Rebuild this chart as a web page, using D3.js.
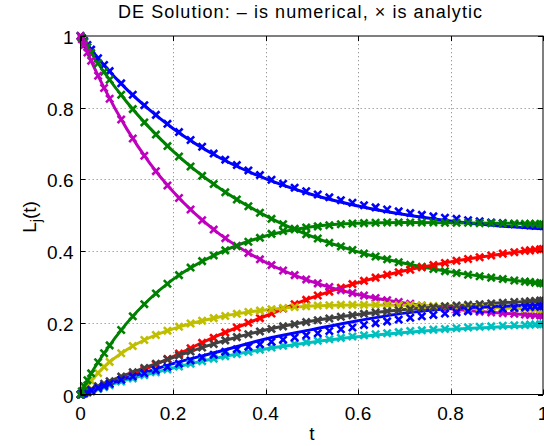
<!DOCTYPE html>
<html lang="en">
<head>
<meta charset="utf-8">
<title>DE Solution</title>
<script src="https://d3js.org/d3.v7.min.js"></script>
<style>
  body { margin: 0; background: #fff; }
  svg { font-family: "Liberation Sans", Arial, sans-serif; }
</style>
</head>
<body>
<div id="chart"></div>
<script>
// size of the page
var w = 544;
var h = 446;

// solver time steps (where the analytic x markers sit)
var tSteps = [0, 0.003, 0.008, 0.015, 0.023, 0.038, 0.051, 0.063,
  0.088, 0.113, 0.138, 0.163, 0.188, 0.213, 0.238, 0.263, 0.288, 0.313,
  0.338, 0.363, 0.388, 0.413, 0.438, 0.463, 0.488, 0.513, 0.538, 0.563,
  0.588, 0.613, 0.638, 0.663, 0.688, 0.713, 0.738, 0.763, 0.788, 0.813,
  0.838, 0.863, 0.888, 0.913, 0.938, 0.961, 0.972, 0.983, 0.994, 1.0];

// time grid for the numerical curves
var tGrid = [0, 0.025, 0.05, 0.1, 0.15, 0.2, 0.3, 0.4, 0.5, 0.6, 0.7, 0.8, 0.9, 1.0];

// analytic values (x markers)
var anaBlueTop = [1.000, 0.995, 0.986, 0.975, 0.962, 0.938, 0.919, 0.902,
  0.868, 0.836, 0.807, 0.780, 0.755, 0.732, 0.710, 0.691, 0.672, 0.655,
  0.640, 0.625, 0.612, 0.599, 0.588, 0.577, 0.567, 0.558, 0.550, 0.542,
  0.535, 0.528, 0.522, 0.516, 0.511, 0.506, 0.501, 0.497, 0.493, 0.490,
  0.486, 0.483, 0.480, 0.478, 0.475, 0.473, 0.472, 0.471, 0.471, 0.470];
var anaGreenTop = [1.000, 0.994, 0.983, 0.969, 0.953, 0.924, 0.900, 0.878,
  0.836, 0.796, 0.759, 0.725, 0.693, 0.664, 0.636, 0.610, 0.587, 0.564,
  0.544, 0.525, 0.507, 0.490, 0.475, 0.461, 0.447, 0.435, 0.423, 0.413,
  0.403, 0.393, 0.385, 0.377, 0.369, 0.362, 0.356, 0.350, 0.344, 0.339,
  0.334, 0.330, 0.326, 0.322, 0.318, 0.315, 0.314, 0.312, 0.311, 0.310];
var anaMagenta = [1.000, 0.991, 0.975, 0.954, 0.931, 0.889, 0.855, 0.825,
  0.767, 0.714, 0.666, 0.623, 0.583, 0.548, 0.516, 0.486, 0.460, 0.436,
  0.414, 0.395, 0.377, 0.361, 0.346, 0.333, 0.321, 0.310, 0.300, 0.291,
  0.283, 0.276, 0.269, 0.263, 0.258, 0.253, 0.248, 0.244, 0.240, 0.237,
  0.234, 0.231, 0.229, 0.227, 0.225, 0.223, 0.222, 0.221, 0.221, 0.220];
var anaGreenRise = [0.000, 0.009, 0.023, 0.040, 0.059, 0.090, 0.115, 0.137,
  0.180, 0.218, 0.252, 0.282, 0.309, 0.333, 0.354, 0.372, 0.388, 0.402,
  0.414, 0.426, 0.437, 0.448, 0.456, 0.462, 0.466, 0.469, 0.472, 0.475,
  0.477, 0.478, 0.479, 0.480, 0.480, 0.480, 0.480, 0.480, 0.479, 0.479,
  0.479, 0.478, 0.478, 0.477, 0.477, 0.476, 0.476, 0.476, 0.475, 0.475];
var anaYellow = [0.000, 0.005, 0.014, 0.026, 0.038, 0.060, 0.077, 0.091,
  0.115, 0.135, 0.152, 0.166, 0.178, 0.189, 0.198, 0.206, 0.213, 0.219,
  0.225, 0.230, 0.234, 0.238, 0.241, 0.244, 0.246, 0.248, 0.249, 0.250,
  0.250, 0.250, 0.250, 0.250, 0.249, 0.249, 0.248, 0.247, 0.246, 0.245,
  0.244, 0.243, 0.242, 0.241, 0.240, 0.239, 0.239, 0.238, 0.238, 0.238];
var anaRed = [0.000, 0.001, 0.003, 0.006, 0.009, 0.016, 0.022, 0.028,
  0.041, 0.055, 0.069, 0.084, 0.099, 0.114, 0.129, 0.144, 0.158, 0.173,
  0.187, 0.200, 0.213, 0.226, 0.240, 0.252, 0.264, 0.276, 0.287, 0.298,
  0.308, 0.317, 0.326, 0.334, 0.341, 0.348, 0.355, 0.361, 0.367, 0.373,
  0.378, 0.383, 0.388, 0.393, 0.397, 0.401, 0.402, 0.404, 0.405, 0.406];
var anaGrey = [0.000, 0.002, 0.005, 0.009, 0.014, 0.023, 0.030, 0.037,
  0.050, 0.062, 0.074, 0.086, 0.098, 0.109, 0.120, 0.131, 0.141, 0.151,
  0.160, 0.168, 0.176, 0.183, 0.190, 0.196, 0.202, 0.207, 0.212, 0.217,
  0.221, 0.225, 0.229, 0.232, 0.235, 0.238, 0.241, 0.243, 0.246, 0.248,
  0.250, 0.252, 0.254, 0.256, 0.258, 0.259, 0.260, 0.261, 0.262, 0.262];
var anaBlueLow = [0.000, 0.001, 0.004, 0.007, 0.011, 0.018, 0.024, 0.030,
  0.041, 0.050, 0.059, 0.068, 0.077, 0.086, 0.095, 0.103, 0.111, 0.119,
  0.126, 0.133, 0.140, 0.147, 0.153, 0.159, 0.165, 0.171, 0.177, 0.182,
  0.187, 0.194, 0.199, 0.204, 0.209, 0.214, 0.218, 0.222, 0.226, 0.229,
  0.232, 0.235, 0.237, 0.239, 0.241, 0.243, 0.244, 0.245, 0.245, 0.246];
var anaCyan = [0.000, 0.001, 0.003, 0.006, 0.009, 0.016, 0.021, 0.026,
  0.036, 0.045, 0.054, 0.062, 0.070, 0.078, 0.086, 0.093, 0.100, 0.107,
  0.113, 0.119, 0.125, 0.131, 0.136, 0.141, 0.146, 0.150, 0.154, 0.158,
  0.162, 0.165, 0.168, 0.171, 0.174, 0.177, 0.179, 0.181, 0.183, 0.185,
  0.187, 0.189, 0.190, 0.192, 0.193, 0.194, 0.195, 0.195, 0.196, 0.196];

// numerical values (solid lines)
var numBlueTop   = [1.000, 0.959, 0.920, 0.851, 0.793, 0.742, 0.661, 0.602, 0.558, 0.526, 0.502, 0.484, 0.471, 0.462];
var numGreenTop  = [1.000, 0.949, 0.901, 0.816, 0.743, 0.679, 0.576, 0.499, 0.441, 0.398, 0.366, 0.342, 0.324, 0.310];
var numMagenta   = [1.000, 0.925, 0.858, 0.741, 0.645, 0.566, 0.448, 0.369, 0.315, 0.279, 0.255, 0.239, 0.228, 0.220];
var numGreenRise = [0.000, 0.063, 0.113, 0.199, 0.267, 0.321, 0.395, 0.442, 0.468, 0.478, 0.480, 0.479, 0.478, 0.476];
var numYellow    = [0.000, 0.041, 0.076, 0.125, 0.159, 0.183, 0.216, 0.236, 0.247, 0.250, 0.249, 0.246, 0.242, 0.238];
var numRed       = [0.000, 0.010, 0.022, 0.048, 0.076, 0.106, 0.166, 0.219, 0.270, 0.312, 0.345, 0.370, 0.390, 0.406];
var numGrey      = [0.000, 0.015, 0.030, 0.056, 0.080, 0.103, 0.146, 0.180, 0.205, 0.223, 0.237, 0.247, 0.255, 0.262];
var numBlueLow   = [0.000, 0.012, 0.024, 0.046, 0.066, 0.086, 0.120, 0.155, 0.181, 0.206, 0.227, 0.240, 0.246, 0.250];
var numCyan      = [0.000, 0.010, 0.021, 0.041, 0.058, 0.074, 0.103, 0.127, 0.146, 0.161, 0.173, 0.182, 0.188, 0.193];

// matlab default colour order, cycled
var colors = ["#0000ff", "#008000", "#ff0000", "#00bfbf", "#bf00bf", "#bfbf00", "#404040", "#0000ff", "#008000"];

var numSeries = [numBlueTop, numGreenTop, numRed, numCyan, numMagenta, numYellow, numGrey, numBlueLow, numGreenRise];
var anaSeries = [anaBlueTop, anaGreenTop, anaRed, anaCyan, anaMagenta, anaYellow, anaGrey, anaBlueLow, anaGreenRise];

var xTicks = [0, 0.2, 0.4, 0.6, 0.8, 1];
var yTicks = [0, 0.2, 0.4, 0.6, 0.8, 1];

// axes box in pixels
var boxL = 80.5, boxR = 543, boxT = 36, boxB = 394.5;

var x = d3.scaleLinear().domain([0, 1]).range([boxL, boxR]);
var y = d3.scaleLinear().domain([0, 1]).range([boxB, boxT]);

var svg = d3.select("#chart").append("svg")
  .attr("width", w)
  .attr("height", h);

// grid
var grid = svg.append("g")
  .attr("stroke", "#999")
  .attr("stroke-width", 1)
  .attr("stroke-dasharray", "1.3,2.7");
grid.selectAll(".gx")
  .data(xTicks.filter(function (d) { return d > 0 && d < 1; }))
  .enter().append("line")
  .attr("x1", function (d) { return Math.round(x(d)) + 0.5; })
  .attr("x2", function (d) { return Math.round(x(d)) + 0.5; })
  .attr("y1", boxT).attr("y2", boxB);
grid.selectAll(".gy")
  .data(yTicks.filter(function (d) { return d > 0 && d < 1; }))
  .enter().append("line")
  .attr("y1", function (d) { return Math.round(y(d)) + 0.5; })
  .attr("y2", function (d) { return Math.round(y(d)) + 0.5; })
  .attr("x1", boxL).attr("x2", boxR);

// clip to the axes box (markers may poke out a bit)
svg.append("clipPath").attr("id", "clip")
  .append("rect")
  .attr("x", boxL - 6).attr("y", boxT - 6)
  .attr("width", boxR - boxL + 6).attr("height", boxB - boxT + 12);

var plot = svg.append("g").attr("clip-path", "url(#clip)");

var line = d3.line()
  .x(function (d, i) { return x(tGrid[i]); })
  .y(function (d) { return y(d); })
  .curve(d3.curveMonotoneX);

// numerical solutions
plot.selectAll(".num")
  .data(numSeries)
  .enter().append("path")
  .attr("class", "num")
  .attr("fill", "none")
  .attr("stroke", function (d, i) { return colors[i]; })
  .attr("stroke-width", 3)
  .attr("stroke-linejoin", "round")
  .attr("d", line);

// analytic solutions as x markers
var m = 3.6;
plot.selectAll(".ana")
  .data(anaSeries)
  .enter().append("g")
  .attr("class", "ana")
  .attr("stroke", function (d, i) { return colors[i]; })
  .attr("stroke-width", 2.6)
  .selectAll("path")
  .data(function (d) { return d; })
  .enter().append("path")
  .attr("transform", function (d, i) { return "translate(" + x(tSteps[i]) + "," + y(d) + ")"; })
  .attr("d", "M" + (-m) + "," + (-m) + "L" + m + "," + m + "M" + (-m) + "," + m + "L" + m + "," + (-m));

// box and ticks
var axes = svg.append("g").attr("stroke", "#000").attr("stroke-width", 1);
axes.append("rect")
  .attr("x", boxL).attr("y", boxT)
  .attr("width", boxR - boxL).attr("height", boxB - boxT)
  .attr("fill", "none");

var tl = 5;
xTicks.forEach(function (d) {
  var px = Math.round(x(d)) + 0.5;
  axes.append("line").attr("x1", px).attr("x2", px).attr("y1", boxB).attr("y2", boxB - tl);
  axes.append("line").attr("x1", px).attr("x2", px).attr("y1", boxT).attr("y2", boxT + tl);
});
yTicks.forEach(function (d) {
  var py = Math.round(y(d)) + 0.5;
  axes.append("line").attr("y1", py).attr("y2", py).attr("x1", boxL).attr("x2", boxL + tl);
  axes.append("line").attr("y1", py).attr("y2", py).attr("x1", boxR).attr("x2", boxR - tl);
});

// tick labels
svg.selectAll(".xl")
  .data(xTicks)
  .enter().append("text")
  .attr("x", function (d) { return x(d); })
  .attr("y", boxB + 25)
  .attr("text-anchor", "middle")
  .attr("font-size", 19)
  .text(function (d) { return d3.format("")(d); });

svg.selectAll(".yl")
  .data(yTicks)
  .enter().append("text")
  .attr("x", boxL - 7)
  .attr("y", function (d) { return y(d) + 8; })
  .attr("text-anchor", "end")
  .attr("font-size", 19)
  .text(function (d) { return d3.format("")(d); });

// axis labels
svg.append("text")
  .attr("x", 312)
  .attr("y", 440)
  .attr("text-anchor", "middle")
  .attr("font-size", 19)
  .text("t");

var yl = svg.append("text")
  .attr("transform", "translate(36,217) rotate(-90)")
  .attr("text-anchor", "middle")
  .attr("font-size", 19);
yl.append("tspan").text("L");
yl.append("tspan").attr("font-size", 14).attr("dy", 5).text("j");
yl.append("tspan").attr("dy", -5).text("(t)");

// title
svg.append("text")
  .attr("x", 300)
  .attr("y", 18)
  .attr("text-anchor", "middle")
  .attr("font-size", 18)
  .attr("textLength", 364)
  .attr("lengthAdjust", "spacing")
  .text("DE Solution: \u2013 is numerical, \u00d7 is analytic");
</script>
</body>
</html>
